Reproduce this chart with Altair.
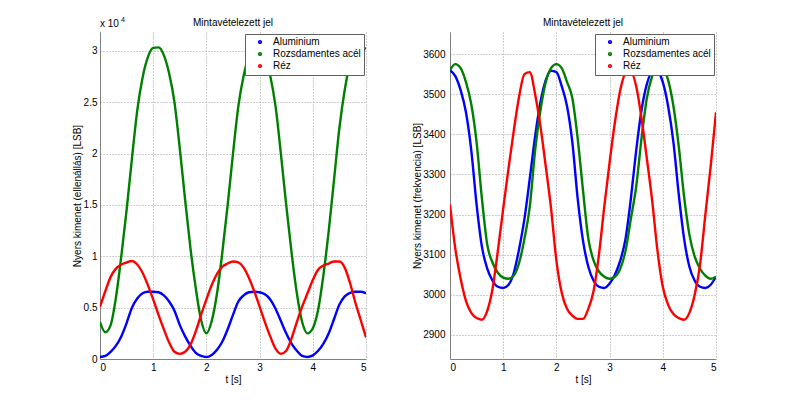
import altair as alt
import pandas as pd

# sampling instants [s]
t_s = [0.0, 0.1, 0.2, 0.3, 0.4, 0.5, 0.6, 0.7, 0.8, 0.9,
       1.0, 1.1, 1.2, 1.3, 1.4, 1.5, 1.6, 1.7, 1.8, 1.9,
       2.0, 2.1, 2.2, 2.3, 2.4, 2.5, 2.6, 2.7, 2.8, 2.9,
       3.0, 3.1, 3.2, 3.3, 3.4, 3.5, 3.6, 3.7, 3.8, 3.9,
       4.0, 4.1, 4.2, 4.3, 4.4, 4.5, 4.6, 4.7, 4.8, 4.9, 5.0]

names = ["Aluminium", "Rozsdamentes acél", "Réz"]
colors = ["#0000ff", "#008000", "#ff0000"]

# Left panel: raw output (resistance) [LSB]
left_alu = [200, 300, 700, 1300, 2200, 3500, 5000, 5900, 6400, 6550,
            6550, 6500, 6200, 5600, 4700, 3300, 2200, 1300, 600, 300,
            200, 400, 900, 1700, 2900, 4300, 5600, 6200, 6500, 6550,
            6500, 6300, 5800, 4900, 3700, 2500, 1500, 800, 300, 200,
            350, 800, 1500, 2500, 3900, 5300, 6100, 6450, 6550, 6550, 6400]
left_acel = [3600, 2600, 3300, 6000, 10000, 14500, 19500, 24200, 27400, 29400,
             30300, 30350, 29600, 27800, 25000, 20500, 15500, 10800, 6900, 3800,
             2500, 3700, 6400, 10400, 15000, 20000, 24600, 27600, 29500, 30350,
             30350, 29500, 27600, 24600, 20000, 15000, 10400, 6400, 3600, 2500,
             3000, 4800, 8200, 12500, 17500, 22500, 26200, 28800, 30000, 30400, 30200]
left_rez = [5100, 6600, 8000, 8800, 9200, 9400, 9550, 9200, 8400, 7200,
            5800, 4300, 2900, 1600, 700, 500, 700, 1400, 2700, 4300,
            5800, 7200, 8300, 9000, 9300, 9500, 9400, 8900, 7900, 6600,
            5100, 3600, 2200, 1000, 500, 800, 2000, 3600, 5100, 6400,
            7700, 8700, 9100, 9300, 9500, 9500, 8900, 7400, 5500, 3800, 2100]

# Right panel: raw output (frequency) [LSB]
right_alu = [3560, 3545, 3510, 3455, 3360, 3225, 3120, 3065, 3035, 3020,
             3017, 3025, 3055, 3115, 3190, 3290, 3395, 3480, 3535, 3558,
             3555, 3520, 3470, 3380, 3240, 3135, 3070, 3035, 3020, 3017,
             3028, 3050, 3085, 3140, 3240, 3360, 3460, 3525, 3555, 3556,
             3530, 3470, 3380, 3250, 3140, 3070, 3035, 3020, 3017, 3025, 3045]
right_acel = [3560, 3575, 3565, 3530, 3475, 3380, 3240, 3125, 3080, 3055,
              3043, 3040, 3048, 3080, 3140, 3220, 3360, 3460, 3530, 3565,
              3575, 3565, 3530, 3490, 3390, 3260, 3140, 3085, 3058, 3045,
              3040, 3045, 3065, 3110, 3190, 3270, 3390, 3490, 3545, 3572,
              3565, 3535, 3470, 3370, 3245, 3150, 3095, 3065, 3048, 3040, 3045]
right_rez = [3225, 3115, 3040, 2985, 2955, 2942, 2938, 2960, 3015, 3110,
             3215, 3315, 3410, 3495, 3550, 3555, 3500, 3420, 3320, 3215,
             3085, 3005, 2965, 2948, 2940, 2940, 2965, 3010, 3100, 3220,
             3330, 3430, 3510, 3552, 3555, 3520, 3440, 3340, 3235, 3110,
             3020, 2975, 2952, 2942, 2938, 2955, 3000, 3075, 3200, 3320, 3455]

x_ticks = [0, 1, 2, 3, 4, 5]
left_ticks = [0, 5000, 10000, 15000, 20000, 25000, 30000]
right_ticks = [2900, 3000, 3100, 3200, 3300, 3400, 3500, 3600]

FONT = "Liberation Sans"


def make_df(series_list):
    rows = []
    for name, series in zip(names, series_list):
        for tt, v in zip(t_s, series):
            rows.append({"t": tt, "anyag": name, "v": v})
    return pd.DataFrame(rows)


def exponent_layer(show):
    op = 1 if show else 0
    base = alt.Chart(pd.DataFrame({"txt": ["x 10"]})).mark_text(
        align="left", baseline="alphabetic", fontSize=10, font=FONT, color="#000", opacity=op
    ).encode(x=alt.value(0), y=alt.value(-5), text="txt:N")
    sup = alt.Chart(pd.DataFrame({"txt": ["4"]})).mark_text(
        align="left", baseline="alphabetic", fontSize=7, font=FONT, color="#000", opacity=op
    ).encode(x=alt.value(21), y=alt.value(-10), text="txt:N")
    return base, sup


def panel(series_list, ydomain, yticks, ytitle, lab_pad, title_pad, show_exp, label_expr=None):
    df = make_df(series_list)
    axis_kw = dict(values=yticks, title=ytitle, labelPadding=lab_pad, titlePadding=title_pad, format="d")
    if label_expr is not None:
        axis_kw["labelExpr"] = label_expr
    lines = alt.Chart(df).mark_line(strokeWidth=2.4, interpolate="monotone", clip=True).encode(
        x=alt.X("t:Q", scale=alt.Scale(domain=[0, 5], nice=False),
                axis=alt.Axis(values=x_ticks, title="t [s]", labelPadding=3, titlePadding=2)),
        y=alt.Y("v:Q", scale=alt.Scale(domain=ydomain, nice=False, zero=False),
                axis=alt.Axis(**axis_kw)),
        color=alt.Color("anyag:N", scale=alt.Scale(domain=names, range=colors),
                        legend=alt.Legend(title=None, orient="top-right", offset=2,
                                          symbolType="circle", symbolSize=3, symbolStrokeWidth=2.5,
                                          labelFontSize=10, labelFont=FONT, labelColor="#000",
                                          padding=3, rowPadding=0, symbolOffset=7, labelOffset=8,
                                          strokeColor="#606060", fillColor="white")),
    )
    base, sup = exponent_layer(show_exp)
    ch = alt.layer(lines, base, sup)
    return ch.properties(width=266, height=327,
                         title=alt.TitleParams("Mintavételezett jel", frame="group", offset=0, dy=12))


left = panel([left_alu, left_acel, left_rez], [0, 31850], left_ticks,
             "Nyers kimenet (ellenállás) [LSB]", 3, 1, True, "datum.value / 10000 + ''")
right = panel([right_alu, right_acel, right_rez], [2840, 3655], right_ticks,
              "Nyers kimenet (frekvencia) [LSB]", 5, 0, False)

chart = alt.hconcat(left, right, spacing=84, bounds="flush").resolve_scale(
    color="independent", y="independent").resolve_legend(color="independent").properties(
    padding={"left": 64, "top": 8, "right": 5, "bottom": 5}
).configure_view(stroke=None).configure_axis(
    labelFont=FONT, labelFontSize=10, labelColor="#000",
    titleFont=FONT, titleFontSize=10, titleFontWeight="normal", titleColor="#000",
    domainColor="#808080", ticks=False,
    gridColor="#9a9a9a", gridDash=[1, 2], gridWidth=1, gridOpacity=1,
).configure_title(font=FONT, fontSize=10, fontWeight="normal", color="#000")

chart.save("out.html", embed_options={"renderer": "svg", "actions": False})
